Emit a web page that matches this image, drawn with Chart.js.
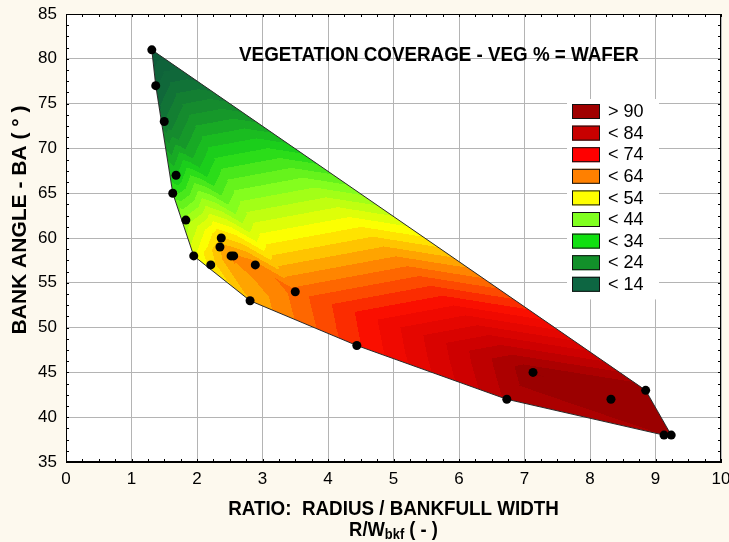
<!DOCTYPE html>
<html>
<head>
<meta charset="utf-8">
<script src="https://cdn.jsdelivr.net/npm/chart.js@4.4.1/dist/chart.umd.min.js"></script>
<style>
  html, body { margin: 0; padding: 0; background: #fdf9ee; }
  #wrap { width: 729px; height: 542px; }
</style>
</head>
<body>
<div id="wrap"><canvas id="vegChart" width="729" height="542"></canvas></div>
<script>
// measured bends: ratio R/Wbkf, bank angle (deg) and vegetation cover (%)
const ratio     = [1.31, 1.37, 1.50, 1.68, 1.63, 1.83, 1.95, 2.37, 2.35, 2.52, 2.56, 2.21, 2.89, 2.81, 3.50, 4.44, 7.13, 6.73, 8.32, 8.85, 9.13, 9.24];
const bankAngle = [81,   77,   73,   67,   65,   62,   58,   60,   59,   58,   58,   57,   57,   53,   54,   48,   45,   42,   42,   43,   38,   38];
const vegCover  = [10,   12,   20,   32,   38,   46,   52,   58,   60,   63,   63,   56,   64,   60,   66,   72,   92,   88,   92,   92,   90,   92];

// contour levels shown in the key
const levelLabels = ['> 90', '< 84', '< 74', '< 64', '< 54', '< 44', '< 34', '< 24', '< 14'];
const levelColors = ['#a00000', '#c80000', '#ff0000', '#ff8000', '#ffff00', '#80ff20', '#10e010', '#12902a', '#0d6642'];

// colour ramp used for the filled surface
const rampStops = [
  [10, [14, 90, 58]],
  [17, [16, 106, 58]],
  [26, [22, 150, 42]],
  [35, [28, 215, 24]],
  [44, [135, 255, 30]],
  [54, [255, 255, 0]],
  [64, [255, 130, 0]],
  [74, [250, 12, 0]],
  [84, [205, 0, 0]],
  [92, [150, 0, 0]]
];

const FONT = "'Liberation Sans', Arial, sans-serif";

function rampColor(v) {
  v = Math.floor(v / 2.5) * 2.5 + 1.25;
  if (v <= rampStops[0][0]) return rampStops[0][1];
  for (let i = 1; i < rampStops.length; i++) {
    const [v1, c1] = rampStops[i];
    const [v0, c0] = rampStops[i - 1];
    if (v <= v1) {
      const t = (v - v0) / (v1 - v0);
      return [0, 1, 2].map(k => Math.round(c0[k] + (c1[k] - c0[k]) * t));
    }
  }
  return rampStops[rampStops.length - 1][1];
}

// Bowyer-Watson triangulation, points given as [px, py]
function delaunay(pts) {
  const all = pts.map(p => [p[0], p[1]]);
  const n = all.length;
  all.push([-1e5, -1e5], [1e5, -1e5], [0, 1e5]);
  let tris = [[n, n + 1, n + 2]];
  const circ = t => {
    const [ax, ay] = all[t[0]], [bx, by] = all[t[1]], [cx, cy] = all[t[2]];
    const d = 2 * (ax * (by - cy) + bx * (cy - ay) + cx * (ay - by));
    const ux = ((ax * ax + ay * ay) * (by - cy) + (bx * bx + by * by) * (cy - ay) + (cx * cx + cy * cy) * (ay - by)) / d;
    const uy = ((ax * ax + ay * ay) * (cx - bx) + (bx * bx + by * by) * (ax - cx) + (cx * cx + cy * cy) * (bx - ax)) / d;
    return [ux, uy, (ax - ux) ** 2 + (ay - uy) ** 2];
  };
  for (let i = 0; i < n; i++) {
    const [px, py] = all[i];
    const bad = [], keep = [];
    tris.forEach(t => {
      const [ux, uy, r2] = circ(t);
      ((px - ux) ** 2 + (py - uy) ** 2 < r2 ? bad : keep).push(t);
    });
    const edges = {};
    bad.forEach(t => {
      [[t[0], t[1]], [t[1], t[2]], [t[2], t[0]]].forEach(([a, b]) => {
        const key = a < b ? a + '_' + b : b + '_' + a;
        edges[key] = edges[key] ? null : [a, b];
      });
    });
    Object.values(edges).forEach(e => { if (e) keep.push([e[0], e[1], i]); });
    tris = keep;
  }
  return tris.filter(t => t[0] < n && t[1] < n && t[2] < n);
}

function convexHull(pts) {
  const p = pts.slice().sort((a, b) => a[0] - b[0] || a[1] - b[1]);
  const cross = (o, a, b) => (a[0] - o[0]) * (b[1] - o[1]) - (a[1] - o[1]) * (b[0] - o[0]);
  const lower = [], upper = [];
  p.forEach(q => { while (lower.length > 1 && cross(lower[lower.length - 2], lower[lower.length - 1], q) <= 0) lower.pop(); lower.push(q); });
  p.slice().reverse().forEach(q => { while (upper.length > 1 && cross(upper[upper.length - 2], upper[upper.length - 1], q) <= 0) upper.pop(); upper.push(q); });
  return lower.slice(0, -1).concat(upper.slice(0, -1));
}

// text squeezed horizontally to get the narrow look of the labels
function narrowText(ctx, text, x, y, squeeze, align) {
  ctx.save();
  ctx.translate(x, y);
  ctx.scale(squeeze, 1);
  ctx.textAlign = align || 'left';
  ctx.fillText(text, 0, 0);
  ctx.restore();
  return ctx.measureText(text).width * squeeze;
}

const backgroundPlugin = {
  id: 'paper',
  beforeDraw(chart) {
    const { ctx, chartArea: a } = chart;
    ctx.save();
    ctx.fillStyle = '#fdf9ee';
    ctx.fillRect(0, 0, chart.width, chart.height);
    ctx.fillStyle = '#ffffff';
    ctx.fillRect(a.left, a.top, a.right - a.left, a.bottom - a.top);
    ctx.restore();
  }
};

// filled surface interpolated over the triangulated bends
const contourPlugin = {
  id: 'contour',
  beforeDatasetsDraw(chart) {
    const { ctx, chartArea: a, scales: { x, y } } = chart;
    const pts = ratio.map((r, i) => [x.getPixelForValue(r), y.getPixelForValue(bankAngle[i]), vegCover[i]]);
    const tris = delaunay(pts);
    const w = Math.ceil(a.right - a.left), h = Math.ceil(a.bottom - a.top);
    const off = document.createElement('canvas');
    off.width = w; off.height = h;
    const octx = off.getContext('2d');
    const img = octx.createImageData(w, h);
    tris.forEach(t => {
      const [A, B, C] = t.map(k => pts[k]);
      const det = (B[1] - C[1]) * (A[0] - C[0]) + (C[0] - B[0]) * (A[1] - C[1]);
      if (Math.abs(det) < 1e-9) return;
      const x0 = Math.max(0, Math.floor(Math.min(A[0], B[0], C[0]) - a.left));
      const x1 = Math.min(w - 1, Math.ceil(Math.max(A[0], B[0], C[0]) - a.left));
      const y0 = Math.max(0, Math.floor(Math.min(A[1], B[1], C[1]) - a.top));
      const y1 = Math.min(h - 1, Math.ceil(Math.max(A[1], B[1], C[1]) - a.top));
      for (let py = y0; py <= y1; py++) {
        for (let px = x0; px <= x1; px++) {
          const sx = px + a.left + 0.5, sy = py + a.top + 0.5;
          const l1 = ((B[1] - C[1]) * (sx - C[0]) + (C[0] - B[0]) * (sy - C[1])) / det;
          const l2 = ((C[1] - A[1]) * (sx - C[0]) + (A[0] - C[0]) * (sy - C[1])) / det;
          const l3 = 1 - l1 - l2;
          if (l1 < -0.01 || l2 < -0.01 || l3 < -0.01) continue;
          const v = l1 * A[2] + l2 * B[2] + l3 * C[2];
          const c = rampColor(v);
          const o = (py * w + px) * 4;
          img.data[o] = c[0]; img.data[o + 1] = c[1]; img.data[o + 2] = c[2]; img.data[o + 3] = 255;
        }
      }
    });
    octx.putImageData(img, 0, 0);
    const hull = convexHull(pts.map(p => [p[0], p[1]]));
    const hullPath = () => {
      ctx.beginPath();
      hull.forEach((p, i) => i ? ctx.lineTo(p[0], p[1]) : ctx.moveTo(p[0], p[1]));
      ctx.closePath();
    };
    ctx.save();
    hullPath();
    ctx.clip();
    ctx.drawImage(off, a.left, a.top);
    ctx.restore();
    ctx.save();
    hullPath();
    ctx.strokeStyle = '#2a2a2a';
    ctx.lineWidth = 1;
    ctx.stroke();
    ctx.restore();
  }
};

// frame, minor ticks, titles and the key
const decorPlugin = {
  id: 'decor',
  afterDraw(chart) {
    const { ctx, chartArea: a, scales: { x, y } } = chart;
    ctx.save();

    // minor ticks on all four sides
    ctx.strokeStyle = '#000';
    ctx.lineWidth = 1;
    ctx.beginPath();
    for (let v = 0; v <= 10; v += 0.25) {
      const px = Math.round(x.getPixelForValue(v)) + 0.5;
      ctx.moveTo(px, a.bottom); ctx.lineTo(px, a.bottom - 3);
      ctx.moveTo(px, a.top); ctx.lineTo(px, a.top + 3);
    }
    for (let v = 35; v <= 85; v += 1.25) {
      const py = Math.round(y.getPixelForValue(v)) + 0.5;
      ctx.moveTo(a.left, py); ctx.lineTo(a.left + 3, py);
      ctx.moveTo(a.right, py); ctx.lineTo(a.right - 3, py);
    }
    ctx.stroke();
    ctx.strokeRect(a.left + 0.5, a.top + 0.5, a.right - a.left - 1, a.bottom - a.top - 1);

    ctx.fillStyle = '#000';
    ctx.textBaseline = 'middle';

    // inner title
    ctx.font = 'bold 20px ' + FONT;
    narrowText(ctx, 'VEGETATION COVERAGE - VEG % = WAFER', 439, 55, 0.94, 'center');

    // y title, rotated
    ctx.save();
    ctx.translate(20, 220);
    ctx.rotate(-Math.PI / 2);
    ctx.font = 'bold 21px ' + FONT;
    ctx.textAlign = 'center';
    ctx.fillText('BANK ANGLE - BA ( ° )', 0, 0);
    ctx.restore();

    // key
    const kx = 572, ky = 104, step = 21.6;
    ctx.fillStyle = '#fff';
    ctx.fillRect(kx - 5, ky - 5, 92, levelLabels.length * step + 6);
    ctx.font = '19px ' + FONT;
    levelLabels.forEach((lab, i) => {
      const by = ky + i * step;
      ctx.fillStyle = levelColors[i];
      ctx.fillRect(kx, by, 28, 15);
      ctx.strokeStyle = '#111';
      ctx.strokeRect(kx + 0.5, by + 0.5, 27, 14);
      ctx.fillStyle = '#000';
      narrowText(ctx, lab, kx + 36, by + 8, 0.95);
    });

    // x title, second line with subscript
    const cx = (a.left + a.right) / 2;
    ctx.font = 'bold 20px ' + FONT;
    narrowText(ctx, 'RATIO:  RADIUS / BANKFULL WIDTH', cx, 509, 0.94, 'center');
    const sq = 0.92;
    const part1 = 'R/W', part2 = 'bkf', part3 = ' ( - )';
    ctx.font = 'bold 20px ' + FONT;
    const w1 = ctx.measureText(part1).width * sq, w3 = ctx.measureText(part3).width * sq;
    ctx.font = 'bold 14px ' + FONT;
    const w2 = ctx.measureText(part2).width * sq;
    const sx = cx - (w1 + w2 + w3) / 2;
    ctx.font = 'bold 20px ' + FONT;
    narrowText(ctx, part1, sx, 530, sq);
    ctx.font = 'bold 14px ' + FONT;
    narrowText(ctx, part2, sx + w1, 535, sq);
    ctx.font = 'bold 20px ' + FONT;
    narrowText(ctx, part3, sx + w1 + w2, 530, sq);
    ctx.restore();
  }
};

new Chart(document.getElementById('vegChart').getContext('2d'), {
  type: 'scatter',
  data: {
    datasets: [{
      label: 'VEG %',
      data: ratio.map((r, i) => ({ x: r, y: bankAngle[i] })),
      backgroundColor: '#000',
      borderWidth: 0,
      pointRadius: 4.5,
      pointHoverRadius: 4.5
    }]
  },
  options: {
    responsive: false,
    animation: false,
    layout: { padding: { top: 14, right: 8, left: 0, bottom: 0 } },
    plugins: { legend: { display: false }, tooltip: { enabled: false } },
    scales: {
      x: {
        type: 'linear', min: 0, max: 10,
        afterFit(s) { s.height = 80; s.paddingLeft = 0; s.paddingRight = 0; },
        ticks: { stepSize: 1, padding: 7, color: '#000', font: { family: FONT, size: 17 } },
        grid: { color: '#b4b4b4', drawTicks: false },
        border: { color: '#000' }
      },
      y: {
        type: 'linear', min: 35, max: 85,
        afterFit(s) { s.width = 66; s.paddingTop = 0; s.paddingBottom = 0; },
        ticks: { stepSize: 5, padding: 9, color: '#000', font: { family: FONT, size: 17 } },
        grid: { color: '#b4b4b4', drawTicks: false },
        border: { color: '#000' }
      }
    }
  },
  plugins: [backgroundPlugin, contourPlugin, decorPlugin]
});
</script>
</body>
</html>
